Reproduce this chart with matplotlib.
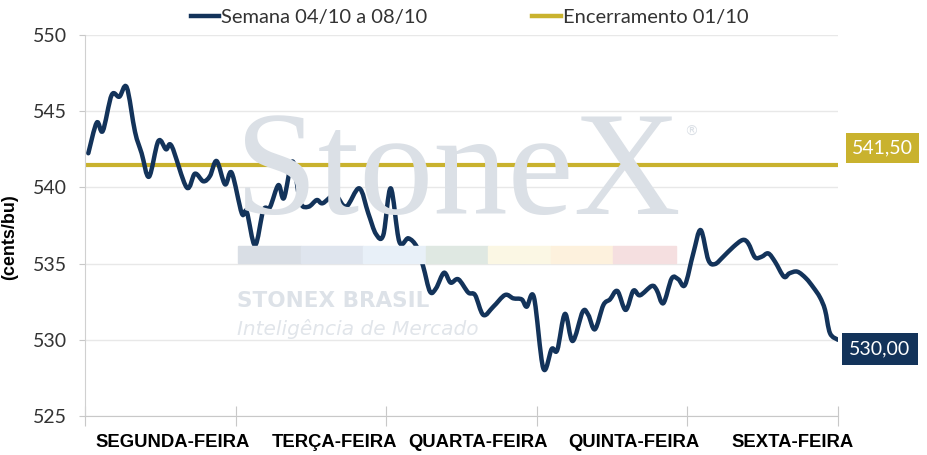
import numpy as np
import matplotlib.pyplot as plt
from matplotlib.patches import Rectangle, PathPatch
from matplotlib.path import Path
from matplotlib.lines import Line2D

# posicao no tempo (em dias, 0 = abertura de segunda) e preco (cents/bu)
dias = [0.022, 0.078, 0.118, 0.177, 0.228, 0.277, 0.332, 0.376, 0.425, 0.487,
        0.538, 0.576, 0.675, 0.730, 0.786, 0.830, 0.874, 0.930, 0.974, 1.041,
        1.074, 1.129, 1.184, 1.228, 1.284, 1.321, 1.379, 1.428, 1.483, 1.539,
        1.578, 1.660, 1.733, 1.821, 1.881, 1.932, 1.981, 2.030, 2.087, 2.147,
        2.203, 2.246, 2.291, 2.331, 2.384, 2.428, 2.479, 2.545, 2.590, 2.645,
        2.711, 2.789, 2.844, 2.900, 2.933, 2.981, 3.043, 3.099, 3.136, 3.187,
        3.238, 3.305, 3.342, 3.386, 3.442, 3.486, 3.535, 3.590, 3.641, 3.685,
        3.763, 3.796, 3.840, 3.896, 3.940, 3.984, 4.039, 4.088, 4.139, 4.183,
        4.238, 4.305, 4.367, 4.404, 4.449, 4.493, 4.537, 4.582, 4.641, 4.677,
        4.730, 4.788, 4.836, 4.880, 4.914, 4.947, 5.000]
precos = [542.24, 544.25, 543.70, 546.06, 545.95, 546.57, 543.65, 542.24, 540.70, 543.04,
          542.50, 542.70, 540.00, 540.90, 540.40, 540.75, 541.73, 540.20, 540.96, 538.30,
          538.40, 536.20, 538.50, 538.70, 540.15, 539.30, 541.70, 539.06, 538.73, 539.17,
          538.96, 539.50, 538.73, 539.94, 538.30, 536.94, 536.88, 539.94, 536.44, 536.66,
          536.10, 534.80, 533.16, 533.38, 534.40, 533.75, 533.97, 533.10, 532.94, 531.63,
          532.17, 532.94, 532.72, 532.65, 532.17, 532.79, 528.13, 529.40, 529.33, 531.70,
          529.92, 531.85, 531.63, 530.69, 532.28, 532.65, 533.20, 531.96, 533.22, 532.92,
          533.53, 533.27, 532.40, 534.03, 533.97, 533.60, 535.67, 537.20, 535.24, 534.97,
          535.45, 536.10, 536.55, 536.33, 535.41, 535.45, 535.67, 535.12, 534.14, 534.36,
          534.47, 534.03, 533.44, 532.79, 531.96, 530.43, 530.00]
encerramento = 541.50
ultimo = 530.00

dias_semana = ["SEGUNDA-FEIRA", "TERÇA-FEIRA", "QUARTA-FEIRA", "QUINTA-FEIRA", "SEXTA-FEIRA"]
# onde o grafico original escreve cada dia (em dias)
pos_rotulos = [0.584, 1.66, 2.61, 3.645, 4.70]
yticks = [525, 530, 535, 540, 545, 550]

navy = "#13335a"
gold = "#c9b22e"


def curva_suave(x, y):
    # linha suavizada (Catmull-Rom desenhado como bezier cubica)
    x = np.asarray(x); y = np.asarray(y)
    p = np.column_stack([x, y])
    ext = np.vstack([p[0], p, p[-1]])
    verts = [p[0]]
    codes = [Path.MOVETO]
    for i in range(1, len(ext) - 2):
        p0, p1, p2, p3 = ext[i-1], ext[i], ext[i+1], ext[i+2]
        c1 = p1 + (p2 - p0) / 6
        c2 = p2 - (p3 - p1) / 6
        verts += [c1, c2, p2]
        codes += [Path.CURVE4] * 3
    return Path(verts, codes)


fig = plt.figure(figsize=(9.27, 4.55), dpi=100)
ax = fig.add_axes([85/927, 1-416/455, (838-85)/927, (416-35)/455])

# marca d'agua
fig.text(235/927, 1-214/455, "StoneX", family="Liberation Serif", fontsize=107,
         color="#dbe0e6", zorder=0)
fig.text(684/927, 1-136/455, "®", family="DejaVu Sans", fontsize=10, color="#dbe0e6")
faixas = ["#d9dee5", "#dfe5ee", "#e8f0f8", "#dfe8e2", "#fbf7e4", "#fdf1dd", "#f5dfe0"]
for i, c in enumerate(faixas):
    fig.patches.append(Rectangle(((238 + i*62.5)/927, 1-263/455), 62.5/927, 17/455,
                                 transform=fig.transFigure, color=c, zorder=0))
fig.text(237/927, 1-307/455, "STONEX BRASIL", family="DejaVu Sans", weight="bold",
         fontsize=15.5, color="#dde2e8")
fig.text(237/927, 1-335/455, "Inteligência de Mercado", family="DejaVu Sans",
         style="oblique", fontsize=14.5, color="#e1e5ea")
ax.patch.set_alpha(0)

ax.add_patch(PathPatch(curva_suave(dias, precos), fc="none", ec=navy, lw=3.2,
                       joinstyle="round", capstyle="round", zorder=3))
ax.axhline(encerramento, color=gold, lw=3, zorder=2)

ax.set_xlim(0, 5)
ax.set_ylim(525, 550)
ax.set_yticks(yticks)
ax.set_yticklabels([str(v) for v in yticks], family="Lato", fontsize=14, color="#333333")
ax.grid(axis="y", color="#e8e8e8", lw=1)
ax.set_axisbelow(True)
ax.tick_params(axis="y", length=4, color="#c8c8c8", pad=9)

ax.set_xticks(range(6))
ax.set_xticklabels([])
ax.tick_params(axis="x", which="major", direction="inout", length=14, color="#c8c8c8")
ax.set_xticks(pos_rotulos, minor=True)
ax.set_xticklabels(dias_semana, minor=True, family="Liberation Sans", weight="bold",
                   fontsize=13.3, color="black")
ax.tick_params(axis="x", which="minor", length=0, pad=13)

for s in ["top", "right"]:
    ax.spines[s].set_visible(False)
ax.spines["left"].set_color("#d0d0d0")
ax.spines["bottom"].set_color("#c8c8c8")

ax.set_ylabel("(cents/bu)", family="Liberation Sans", weight="bold", fontsize=13,
              labelpad=14)
ax.yaxis.set_label_coords(-67/753, 0.47)

ax.annotate(f"{encerramento:.2f}".replace(".", ","), (5, encerramento),
            xytext=(10, 12), textcoords="offset points", va="center", ha="left",
            family="Lato", fontsize=14, color="white", annotation_clip=False,
            bbox=dict(boxstyle="square,pad=0.32", fc=gold, ec="none"))
ax.annotate(f"{ultimo:.2f}".replace(".", ","), (5, ultimo),
            xytext=(8, -6.5), textcoords="offset points", va="center", ha="left",
            family="Lato", fontsize=14, color="white", annotation_clip=False,
            bbox=dict(boxstyle="square,pad=0.38", fc=navy, ec="none"))

handles = [Line2D([], [], color=navy, lw=3.2), Line2D([], [], color=gold, lw=3.2)]
leg = ax.legend(handles, ["Semana 04/10 a 08/10", "Encerramento 01/10"],
                loc="center", bbox_to_anchor=(0.511, 1.047), ncol=2, frameon=False,
                handlelength=1.4, handletextpad=0.1, columnspacing=5.2,
                prop=dict(family="Lato", size=14.5))
for t in leg.get_texts():
    t.set_color("#333333")

fig.savefig("out.png", dpi=100)
